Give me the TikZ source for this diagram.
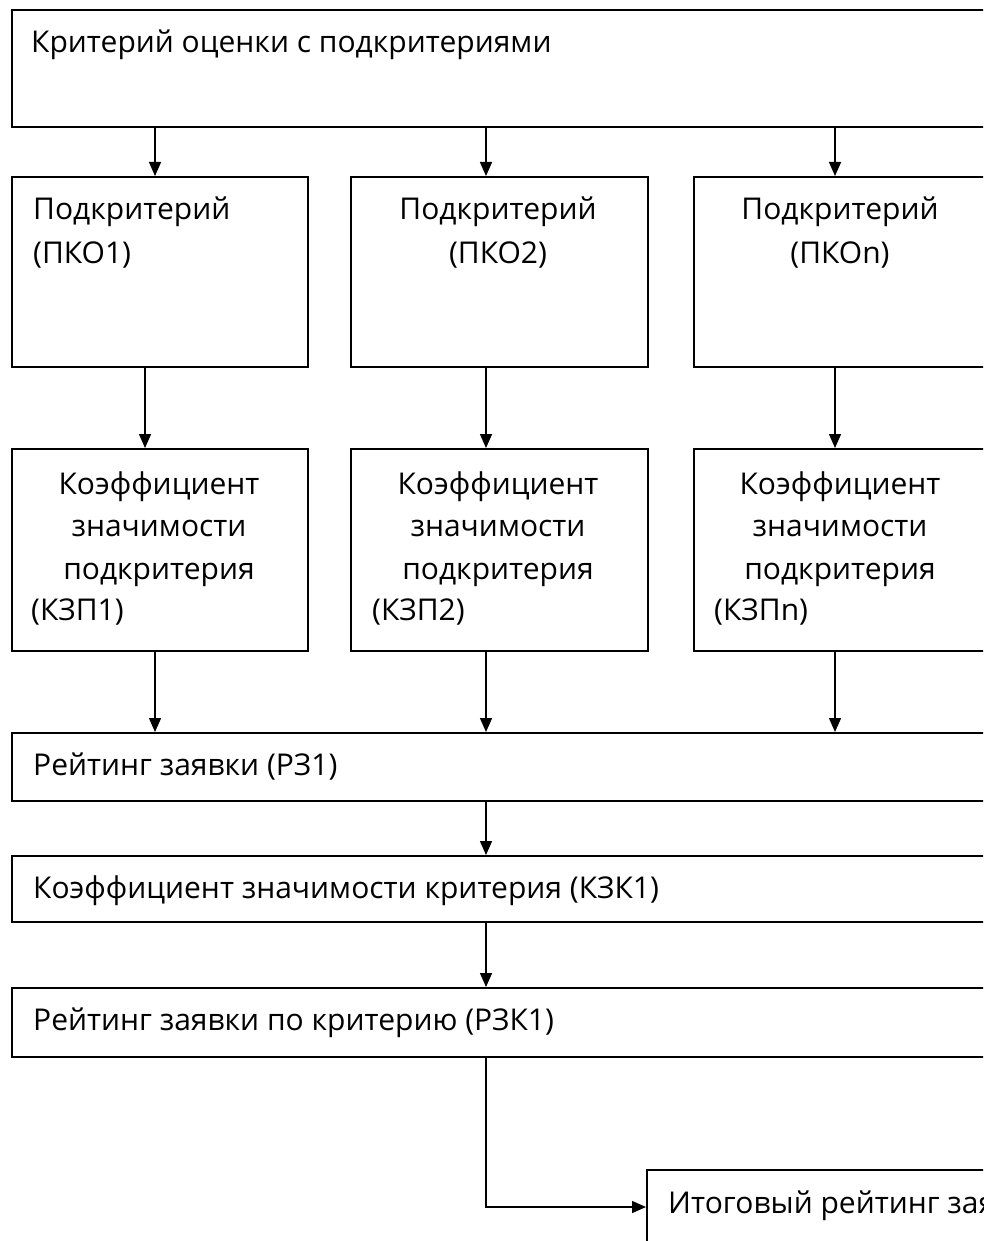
\documentclass[tikz,border=0pt]{standalone}
\usepackage{fontspec}
\setmainfont{Open Sans}
\usetikzlibrary{arrows.meta}
\begin{document}
\begin{tikzpicture}[x=1pt,y=-1pt,
  box/.style={draw, line width=1.7pt, inner sep=0pt, anchor=north west},
  txt/.style={inner sep=0pt, font=\fontsize{30}{36}\selectfont},
  arr/.style={-{Triangle[length=14pt,width=12pt]}, line width=1.4pt}]
\useasboundingbox (0,0) rectangle (983,1241);
\fill[white] (0,0) rectangle (983,1241);
\clip (0,0) rectangle (983,1241);
% column coordinates
\coordinate (c1) at (155,0);
\coordinate (c1b) at (145,0);
\coordinate (c2) at (486,0);
\coordinate (c3) at (835,0);
\coordinate (cf) at (0,1207);
% boxes
\node[box, minimum width=990pt, minimum height=117pt] (b0) at (11,9) {};
\node[box, minimum width=296pt, minimum height=190pt] (s1) at (11,176) {};
\node[box, minimum width=297pt, minimum height=190pt] (s2) at (350,176) {};
\node[box, minimum width=294pt, minimum height=190pt] (s3) at (693,176) {};
\node[box, minimum width=296pt, minimum height=202pt] (k1) at (11,448) {};
\node[box, minimum width=297pt, minimum height=202pt] (k2) at (350,448) {};
\node[box, minimum width=294pt, minimum height=202pt] (k3) at (693,448) {};
\node[box, minimum width=990pt, minimum height=68pt] (r) at (11,732) {};
\node[box, minimum width=990pt, minimum height=66pt] (kzk) at (11,855) {};
\node[box, minimum width=990pt, minimum height=69pt] (rzk) at (11,987) {};
\node[box, minimum width=400pt, minimum height=100pt] (fin) at (646,1169) {};
% texts
\node[txt, anchor=base west] (t0) at (31,53) {Критерий оценки с подкритериями};
\node[txt, anchor=base west] (ts1a) at (33,220) {Подкритерий};
\node[txt, anchor=base west] (ts1b) at (33,263) {(ПКО1)};
\node[txt, anchor=base] (ts2a) at (498,220) {Подкритерий};
\node[txt, anchor=base] (ts2b) at (498,263) {(ПКО2)};
\node[txt, anchor=base] (ts3a) at (840,220) {Подкритерий};
\node[txt, anchor=base] (ts3b) at (840,263) {(ПКОn)};
\node[txt, anchor=base] (tk1a) at (159,494) {Коэффициент};
\node[txt, anchor=base] (tk1b) at (159,536) {значимости};
\node[txt, anchor=base] (tk1c) at (159,579) {подкритерия};
\node[txt, anchor=base west] (tk1d) at (31,620) {(КЗП1)};
\node[txt, anchor=base] (tk2a) at (498,494) {Коэффициент};
\node[txt, anchor=base] (tk2b) at (498,536) {значимости};
\node[txt, anchor=base] (tk2c) at (498,579) {подкритерия};
\node[txt, anchor=base west] (tk2d) at (372,620) {(КЗП2)};
\node[txt, anchor=base] (tk3a) at (840,494) {Коэффициент};
\node[txt, anchor=base] (tk3b) at (840,536) {значимости};
\node[txt, anchor=base] (tk3c) at (840,579) {подкритерия};
\node[txt, anchor=base west] (tk3d) at (714,620) {(КЗПn)};
\node[txt, anchor=base west] (tr) at (33,775) {Рейтинг заявки (РЗ1)};
\node[txt, anchor=base west] (tkzk) at (33,898) {Коэффициент значимости критерия (КЗК1)};
\node[txt, anchor=base west] (trzk) at (33,1030) {Рейтинг заявки по критерию (РЗК1)};
\node[txt, anchor=base west] (tfin) at (668,1213) {Итоговый рейтинг заявки};
% connectors
\draw[arr] (b0.south -| c1) -- (s1.north -| c1);
\draw[arr] (b0.south -| c2) -- (s2.north -| c2);
\draw[arr] (b0.south -| c3) -- (s3.north -| c3);
\draw[arr] (s1.south -| c1b) -- (k1.north -| c1b);
\draw[arr] (s2.south -| c2) -- (k2.north -| c2);
\draw[arr] (s3.south -| c3) -- (k3.north -| c3);
\draw[arr] (k1.south -| c1) -- (r.north -| c1);
\draw[arr] (k2.south -| c2) -- (r.north -| c2);
\draw[arr] (k3.south -| c3) -- (r.north -| c3);
\draw[arr] (r.south -| c2) -- (kzk.north -| c2);
\draw[arr] (kzk.south -| c2) -- (rzk.north -| c2);
\draw[arr] (rzk.south -| c2) |- (fin.west |- cf);
\end{tikzpicture}
\end{document}
